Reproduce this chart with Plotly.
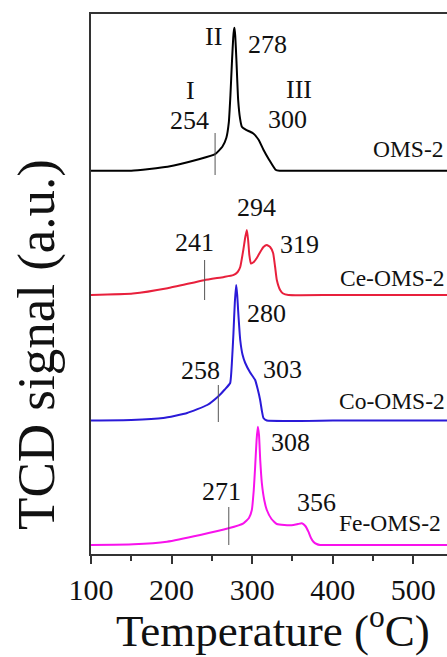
import plotly.graph_objects as go

# ---------------- data ----------------
samples = ["OMS-2", "Ce-OMS-2", "Co-OMS-2", "Fe-OMS-2"]
colors = ["#000000", "#e8203c", "#2a1ad8", "#f812ec"]
offsets = [383.3, 259.0, 133.5, 9.0]  # vertical stacking offsets (a.u.)

T_oms = [100, 150, 195, 235, 254, 263, 268, 271, 273, 275, 276.5, 277.5, 278, 279, 280.5, 282.6, 285, 287.2,
         292, 301, 308, 314, 321, 329, 334, 400, 480, 560]
h_oms = [0, 0, 4, 11.7, 16.5, 24, 33, 48, 75, 110, 133, 141, 143, 135, 110, 71, 52, 44,
         41, 37.5, 31, 21, 11, 1, 0, 0, 0, 0]

T_ce = [100, 152, 195, 240.5, 265, 276.4, 282, 285.2, 289, 291.5, 293.4, 295, 296.5, 298.4, 302, 305.8, 310,
        314, 318.2, 322.3, 326, 328.5, 330.6, 334.7, 338.4, 345, 400, 480, 560]
h_ce = [0, 1.5, 6.8, 14.8, 18, 19.8, 23, 28, 45, 58, 65, 55, 40, 31.5, 33, 37, 43,
        48, 50, 48, 42, 28, 15, 5, 1.5, 0, 0, 0, 0]

T_co = [100, 150, 189.6, 219.4, 244.2, 257.8, 266, 272.7, 275, 276.8, 278.5, 280.2, 281.5, 282.6, 285.2, 288,
        291.4, 297.5, 303.7, 307, 309.9, 312, 314, 318.2, 400, 480, 560]
h_co = [0, 0.5, 2.5, 7.5, 15.5, 24, 31, 37.5, 60, 87.5, 118, 135.5, 125, 110, 80.5, 66,
        57.5, 48, 40.5, 31, 20.5, 10, 2.5, 0, 0, 0, 0]

T_fe = [100, 152.8, 194.2, 235.5, 270.6, 289.2, 296, 299.6, 302, 303.7, 305.5, 307, 308.5, 310, 312, 315,
        318.2, 324, 330.6, 340, 351.2, 357, 361.6, 366, 369.8, 373, 376, 380, 384.3, 400, 480, 560]
h_fe = [0, 0.7, 3.3, 10, 16.7, 21.7, 27, 35, 55, 78, 105, 118.3, 110, 85, 62, 45,
        35, 26, 21, 20, 20, 21, 21.7, 19, 13.3, 7, 3.3, 1, 0, 0, 0, 0]

temps = [T_oms, T_ce, T_co, T_fe]
heights = [h_oms, h_ce, h_co, h_fe]

# onset markers (temperature, y-bottom, y-top)
marker_T = [254, 241, 258, 271]
marker_lo = [379, 254, 132, 9]
marker_hi = [421, 294, 169, 47]

# peak labels: (text, x temperature, y)
peak_labels = [
    ("II", 251.6, 518), ("278", 318.6, 510), ("I", 223.1, 464), ("III", 358.2, 465),
    ("254", 221.9, 434), ("300", 344.3, 435),
    ("294", 305.0, 347), ("241", 228.0, 312), ("319", 358.2, 310),
    ("280", 317.4, 241), ("258", 235.5, 184), ("303", 337.2, 185),
    ("308", 347.1, 112), ("271", 261.6, 63), ("356", 379.3, 52),
]
sample_label_pos = [(448.0, 405), (406.5, 276.5), (405.4, 153), (405.4, 31)]

x_ticks = [100, 200, 300, 400, 500]

# ---------------- figure ----------------
SERIF = "Liberation Serif, Times New Roman, serif"
fig = go.Figure()

for name, col, off, T, h in zip(samples, colors, offsets, temps, heights):
    fig.add_trace(go.Scatter(
        x=T, y=[v + off for v in h], mode="lines", name=name,
        line=dict(color=col, width=2, shape="spline", smoothing=0.4),
        showlegend=False, hoverinfo="skip"))

for t, lo, hi in zip(marker_T, marker_lo, marker_hi):
    fig.add_trace(go.Scatter(
        x=[t, t], y=[lo, hi], mode="lines",
        line=dict(color="#555555", width=1), showlegend=False, hoverinfo="skip"))

annotations = []
for txt, x, y in peak_labels:
    annotations.append(dict(text=txt, x=x, y=y, xref="x", yref="y", showarrow=False,
                            xanchor="center", yanchor="middle",
                            font=dict(family=SERIF, size=26, color="#111111")))
for name, (x, y) in zip(samples, sample_label_pos):
    annotations.append(dict(text=name, x=x, y=y, xref="x", yref="y", showarrow=False,
                            xanchor="left", yanchor="middle",
                            font=dict(family=SERIF, size=23.5, color="#111111")))

# axis titles
annotations.append(dict(text="Temperature (<sup>o</sup>C)", x=0.51, y=-0.137,
                        xref="paper", yref="paper", showarrow=False,
                        xanchor="center", yanchor="middle",
                        font=dict(family=SERIF, size=45, color="#111111")))
annotations.append(dict(text="TCD signal (a.u.)", x=-0.1517, y=0.389,
                        xref="paper", yref="paper", showarrow=False, textangle=-90,
                        xanchor="center", yanchor="middle",
                        font=dict(family=SERIF, size=53, color="#111111")))

fig.update_layout(
    width=447, height=657,
    margin=dict(l=91, r=0, t=14, b=103),
    paper_bgcolor="white", plot_bgcolor="white",
    annotations=annotations,
    xaxis=dict(range=[100, 541.8], tickvals=x_ticks, ticktext=[str(v) for v in x_ticks],
               ticks="outside", ticklen=8, tickwidth=1.5, tickcolor="#333333",
               minor=dict(dtick=50, tick0=100, ticks="outside", ticklen=5, tickwidth=1.5, tickcolor="#333333"),
               showline=True, linecolor="#333333", linewidth=2, mirror=True,
               showgrid=False, zeroline=False,
               tickfont=dict(family=SERIF, size=30, color="#111111")),
    yaxis=dict(range=[0, 540], showticklabels=False, ticks="", showgrid=False, zeroline=False,
               showline=True, linecolor="#333333", linewidth=2),
)

fig.write_html("out.html", config={"displayModeBar": False},
               post_script="document.body.style.margin='0px';document.body.style.overflow='hidden';")
